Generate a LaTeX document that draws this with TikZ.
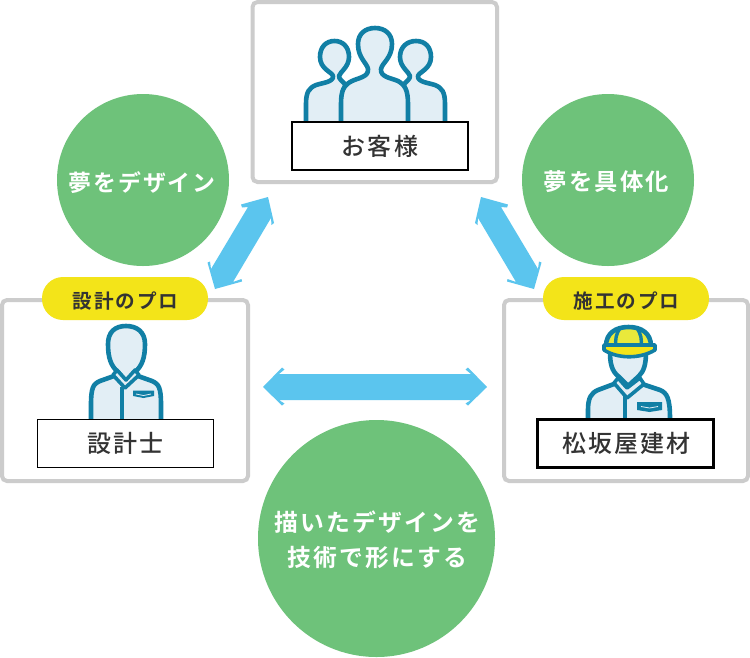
\documentclass[tikz,border=0pt]{standalone}
\usepackage{fontspec}
\setmainfont{Noto Sans CJK JP}[BoldFont={Noto Sans CJK JP Bold}]
\newfontfamily\jpb{Noto Sans CJK JP Bold}[LetterSpace=9]
\newfontfamily\jpm{Noto Sans CJK JP Medium}[LetterSpace=9]
\definecolor{grn}{HTML}{6EC27A}
\definecolor{blu}{HTML}{5BC5EE}
\definecolor{gry}{HTML}{CCCCCC}
\definecolor{yel}{HTML}{F3E419}
\definecolor{yel2}{HTML}{E9E93B}
\definecolor{teal1}{HTML}{117FA5}
\definecolor{skin}{HTML}{E2EEF5}
\definecolor{txt}{HTML}{333333}
\tikzset{
  x=1pt,y=-1pt,
  panel/.style={draw=gry,line width=4pt,rounded corners=5pt,fill=white},
  goal/.style={circle,fill=grn,inner sep=0pt},
  goaltext/.style={inner sep=0pt,text=white,align=center,font=\jpb\fontsize{23.4}{35}\selectfont},
  pro/.style={rounded corners=21pt,fill=yel,minimum width=166pt,minimum height=43pt,inner sep=0pt},
  protext/.style={inner sep=0pt,text=txt,font=\jpb\fontsize{19.6}{20}\selectfont},
  namebox/.style={draw=black,fill=white,text=txt,minimum width=176pt,minimum height=48pt,inner sep=0pt,font=\jpm\fontsize{24}{26}\selectfont},
  figure/.style={draw=teal1,fill=skin,line width=4.6pt,line join=round},
  trim/.style={draw=teal1,line width=3.6pt,line join=round},
  flow/.style={fill=blu,draw=none},
}
\begin{document}
\begin{tikzpicture}
\useasboundingbox (0,0) rectangle (750,657);
\fill[white] (0,0) rectangle (750,657);
% panels
\draw[panel] (252.5,2) rectangle (497,182);
\draw[panel] (2,300) rectangle (248,481);
\draw[panel] (504,300) rectangle (748,481);
% circles
\node[goal,minimum size=172pt] (g1) at (143,180) {};
\node[goaltext,font=\jpb\fontsize{22.9}{35}\selectfont] (t1) at (142,183) {夢をデザイン};
\node[goal,minimum size=172pt] (g2) at (608,180) {};
\node[goaltext] (t2) at (606.5,181.5) {夢を具体化};
\node[goal,minimum size=237pt] (g3) at (376.5,538.5) {};
\node[goaltext,font=\jpb\fontsize{23.8}{35}\selectfont] (t3) at (377.5,540) {描いたデザインを\\技術で形にする};
% arrows
\fill[flow] (263,387) -- (282,367.5) -- (284.5,369.5) -- (279,374) -- (471,374) -- (465.5,369.5) -- (468,367.5) -- (487,387) -- (468,405.5) -- (465.5,403.5) -- (471,400) -- (279,400) -- (284.5,403.5) -- (282,405.5) -- cycle;
\fill[flow] (268,197) -- (274,223) -- (271.5,225) -- (271,218) -- (233,282) -- (241.5,279) -- (242,281.5) -- (215,289) -- (207.5,262.5) -- (210,261.5) -- (211,269) -- (248,207) -- (242,207.5) -- (241,204.5) -- cycle;
\fill[flow] (481,197) -- (508,204.5) -- (507,207.5) -- (501,207) -- (538,269) -- (539,261.5) -- (541.5,262.5) -- (534,289) -- (507,281.5) -- (507.5,279) -- (516,282) -- (478,218) -- (477.5,225) -- (475,223) -- cycle;
% customers
\draw[figure] (306,122) -- (306,104) .. controls (306,92) and (309,88) .. (316,85) .. controls (322,83) and (334,82) .. (333,76) .. controls (332,72) and (320,69) .. (320,57) .. controls (320,47) and (326,41) .. (334.5,41) .. controls (343,41) and (349,47) .. (349,57) .. controls (349,67) and (340,72) .. (339,76) .. controls (339,79) and (342,81) .. (345,84) -- (345,122);
\draw[figure] (445,122) -- (445,104) .. controls (445,92) and (442,88) .. (435,85) .. controls (429,83) and (417,82) .. (418,76) .. controls (419,72) and (431,69) .. (431,57) .. controls (431,47) and (425,41) .. (416,41) .. controls (407,41) and (400,47) .. (400,57) .. controls (400,67) and (409,72) .. (410,76) .. controls (410,79) and (407,81) .. (404,84) -- (404,122);
\draw[figure] (341,122) -- (341,104) .. controls (341,90) and (344,85) .. (352,81) .. controls (358,78) and (369,77) .. (368,69) .. controls (367,63) and (358,58) .. (358,44) .. controls (358,34) and (365,28) .. (375,28) .. controls (385,28) and (392,34) .. (392,44) .. controls (392,58) and (382,63) .. (381,69) .. controls (380,77) and (391,78) .. (398,81) .. controls (405,85) and (408,90) .. (408,104) -- (408,122);
\node[namebox,line width=2pt] (c) at (380,146) {お客様};
% designer
\draw[figure] (91,419) -- (91,405) .. controls (91,388) and (93,384) .. (100,381) -- (114,376) -- (138,376) -- (152,381) .. controls (159,384) and (161,388) .. (161,405) -- (161,419);
\draw[figure] (118,372) .. controls (111,366) and (108,358) .. (108,344) .. controls (108,332) and (115,326) .. (126,326) .. controls (137,326) and (145,332) .. (145,344) .. controls (145,358) and (142,366) .. (135,372) -- (126,382) -- cycle;
\draw[trim,fill=skin] (117,370) -- (126,380) -- (135,370) -- (139,375) -- (125,388) -- (113,375) -- cycle;
\draw[trim] (122,419) -- (122,387);
\fill[teal1] (133,390.5) -- (154,390.5) -- (154,396) -- (143.5,398) -- (133,396) -- cycle;
\draw[skin,line width=.8pt] (136,394) -- (143.5,395.5) -- (151,394);
\node[namebox,line width=1pt] (d) at (125.5,443.5) {設計士};
% builder
\draw[figure] (588,419) -- (588,410) .. controls (588,398) and (591,393) .. (598,390) -- (614,384) -- (642,384) -- (660,390) .. controls (667,393) and (670,398) .. (670,419);
\draw[figure] (618,376) .. controls (612,371) and (610,364) .. (610,352) -- (646,352) .. controls (646,364) and (644,371) .. (639,376) -- (628,386) -- cycle;
\draw[trim,fill=skin] (618,378) -- (627,388) -- (640,378) -- (644,384) -- (627,398) -- (614,383) -- cycle;
\draw[trim] (625,419) -- (625,396);
\fill[teal1] (637,402) -- (662,402) -- (662,410) -- (649.5,412) -- (637,410) -- cycle;
\draw[skin,line width=.8pt] (641,406.5) -- (649.5,408) -- (658,406.5);
\draw[figure,fill=yel2] (606,346) .. controls (606,333) and (616,327) .. (628.5,327) .. controls (641,327) and (651,333) .. (651,346) -- cycle;
\draw[trim,line width=3.4pt] (620,328) .. controls (616,334) and (615,340) .. (616,346) (637,328) .. controls (641,334) and (642,340) .. (641,346);
\draw[trim,fill=yel,line width=3.6pt] (604,345) -- (655,345) -- (655,350) .. controls (640,359) and (618,359) .. (604,350) -- cycle;
\node[namebox,line width=2.2pt] (m) at (625.5,443.5) {\hspace{2pt}松坂屋建材};
% pills
\node[pro] (p1) at (125,298.5) {};
\node[protext] (pt1) at (125.5,301) {設計のプロ};
\node[pro] (p2) at (626,298.5) {};
\node[protext] (pt2) at (626.5,301) {施工のプロ};
\end{tikzpicture}
\end{document}
